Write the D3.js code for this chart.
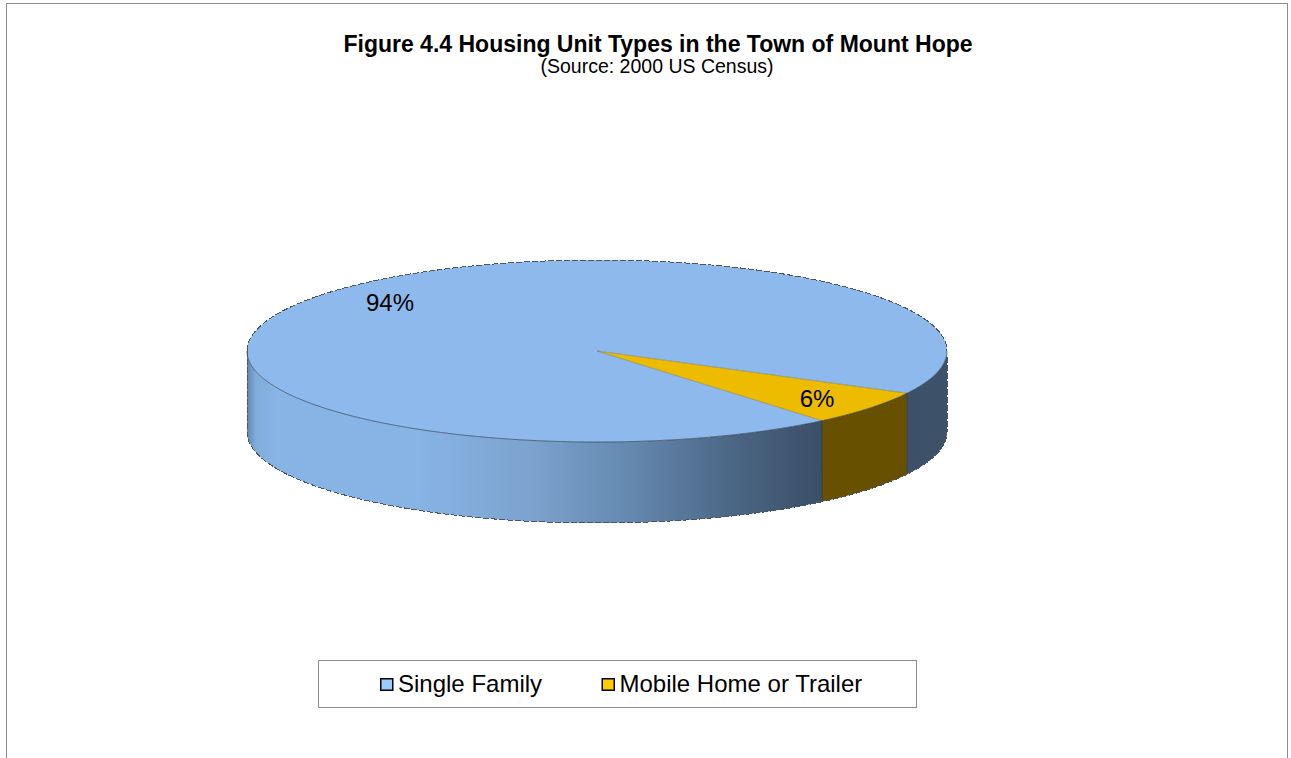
<!DOCTYPE html>
<html>
<head>
<meta charset="utf-8">
<script src="https://cdn.jsdelivr.net/npm/d3@7"></script>
<style>
  html, body { margin: 0; padding: 0; background: #fff; overflow: hidden; }
  text { font-family: "Liberation Sans", Arial, sans-serif; fill: #000; }
</style>
</head>
<body>
<svg id="chart" width="1291" height="758"></svg>
<script>
var categories = ["Single Family", "Mobile Home or Trailer"];
var values = [93.8, 6.2];
var labels = ["94%", "6%"];
var topColors = ["#8db9ec", "#edbc00"];
var sideColors = ["url(#wall)", "#675100"];
var legendColors = ["#99ccff", "#ffcc00"];

var svg = d3.select("#chart");

var cx = 597, cy = 351, rx = 350, ry = 91, depth = 81;

// ellipse position for a pie angle (0 = 12 o'clock, clockwise)
var scaleX = d3.scaleLinear().domain([-1, 1]).range([cx - rx, cx + rx]);
var scaleY = d3.scaleLinear().domain([-1, 1]).range([cy - ry, cy + ry]);
function pt(a, dy) {
  return [scaleX(Math.sin(a)), scaleY(-Math.cos(a)) + (dy || 0)];
}

var pie = d3.pie().sort(null)
    .startAngle(140 * Math.PI / 180)
    .endAngle((140 + 360) * Math.PI / 180);
var slices = pie(values);

var line = d3.line();

function arcPoints(a0, a1, dy) {
  var pts = [], n = Math.max(2, Math.ceil(Math.abs(a1 - a0) / 0.01));
  for (var i = 0; i <= n; i++) pts.push(pt(a0 + (a1 - a0) * i / n, dy));
  return pts;
}

// side wall colour runs left to right across the front
var defs = svg.append("defs");
var wall = defs.append("linearGradient").attr("id", "wall")
    .attr("gradientUnits", "userSpaceOnUse")
    .attr("x1", cx - rx).attr("x2", cx + rx).attr("y1", 0).attr("y2", 0);
[[0, "#5f86b0"], [0.012, "#7fabd9"], [0.04, "#87b4e5"], [0.24, "#87b4e5"],
 [0.4, "#7da3cf"], [0.55, "#6488ae"], [0.7, "#4a6583"], [0.82, "#3a4f68"], [1, "#3d5169"]]
  .forEach(function(s) {
    wall.append("stop").attr("offset", s[0]).attr("stop-color", s[1]);
  });

// chart frame, runs past the bottom of the window
svg.append("rect")
    .attr("x", 6.5).attr("y", 3.5)
    .attr("width", 1281).attr("height", 800)
    .attr("fill", "#fff").attr("stroke", "#8c8c8c").attr("stroke-width", 1);

svg.append("text").attr("x", 658).attr("y", 51.5)
    .attr("text-anchor", "middle")
    .style("font-size", "23px").style("font-weight", "bold")
    .text("Figure 4.4 Housing Unit Types in the Town of Mount Hope");
svg.append("text").attr("x", 657).attr("y", 73)
    .attr("text-anchor", "middle")
    .style("font-size", "19.5px")
    .text("(Source: 2000 US Census)");

var edge = "#2c3a4c";

// side walls: only the part of each slice facing the viewer (pi/2 .. 3pi/2)
var front0 = Math.PI / 2, front1 = 3 * Math.PI / 2;
function wallPath(d) {
  var parts = [];
  for (var k = 0; k < 2; k++) {
    var off = k * 2 * Math.PI;
    var a0 = Math.max(d.startAngle, front0 + off), a1 = Math.min(d.endAngle, front1 + off);
    if (a1 > a0) {
      var pts = arcPoints(a0, a1, 0).concat(arcPoints(a1, a0, depth));
      parts.push(line(pts) + "Z");
    }
  }
  return parts.join("");
}

svg.append("g").selectAll("path")
    .data(slices)
    .join("path")
    .attr("d", wallPath)
    .attr("fill", function(d, i) { return sideColors[i]; })
    .attr("stroke", "none");

// pie top
svg.append("g").selectAll("path")
    .data(slices)
    .join("path")
    .attr("d", function(d) {
      return line([[cx, cy]].concat(arcPoints(d.startAngle, d.endAngle, 0))) + "Z";
    })
    .attr("fill", function(d, i) { return topColors[i]; })
    .attr("stroke", "none");

// soft inner edges: front rim, wedge sides, wall seams
var wedge = slices[1];
var inner = svg.append("g").attr("fill", "none").attr("stroke", edge).attr("stroke-width", 0.9);
inner.append("path").attr("d", line(arcPoints(front0, front1, 0))).attr("stroke-opacity", 0.75);
inner.append("path").attr("d", line([pt(wedge.startAngle), [cx, cy], pt(wedge.endAngle)])).attr("stroke-opacity", 0.35);
[wedge.startAngle, wedge.endAngle].forEach(function(a) {
  inner.append("path").attr("d", line([pt(a), pt(a, depth)])).attr("stroke-opacity", 0.8);
});

// outer silhouette is rough in the original, so no antialiasing here
var outline = arcPoints(front0 - Math.PI, front0, 0)
    .concat(arcPoints(front0, front1, depth))
    .concat([pt(front1)]);
svg.append("path")
    .attr("d", line(outline) + "Z")
    .attr("fill", "none")
    .attr("stroke", "#4a5666").attr("stroke-width", 1)
    .attr("stroke-dasharray", "6 2")
    .attr("shape-rendering", "crispEdges");

// data labels
var labelPos = [[390, 303], [817, 399]];
svg.append("g").selectAll("text")
    .data(labels)
    .join("text")
    .attr("x", function(d, i) { return labelPos[i][0]; })
    .attr("y", function(d, i) { return labelPos[i][1]; })
    .attr("dy", "0.35em")
    .attr("text-anchor", "middle")
    .style("font-size", "24px")
    .text(function(d) { return d; });

// legend
svg.append("rect")
    .attr("x", 318.5).attr("y", 660.5)
    .attr("width", 598).attr("height", 47)
    .attr("fill", "#fff").attr("stroke", "#8c8c8c");

var legendX = [380, 601.5];
var legend = svg.append("g").selectAll("g")
    .data(categories)
    .join("g")
    .attr("transform", function(d, i) { return "translate(" + legendX[i] + ",678)"; });
legend.append("rect")
    .attr("x", 0.75).attr("y", 0.75)
    .attr("width", 12).attr("height", 11.5)
    .attr("fill", function(d, i) { return legendColors[i]; })
    .attr("stroke", "#000").attr("stroke-width", 1.5);
legend.append("text")
    .attr("x", 18).attr("y", 14)
    .style("font-size", "24px")
    .text(function(d) { return d; });
</script>
</body>
</html>
